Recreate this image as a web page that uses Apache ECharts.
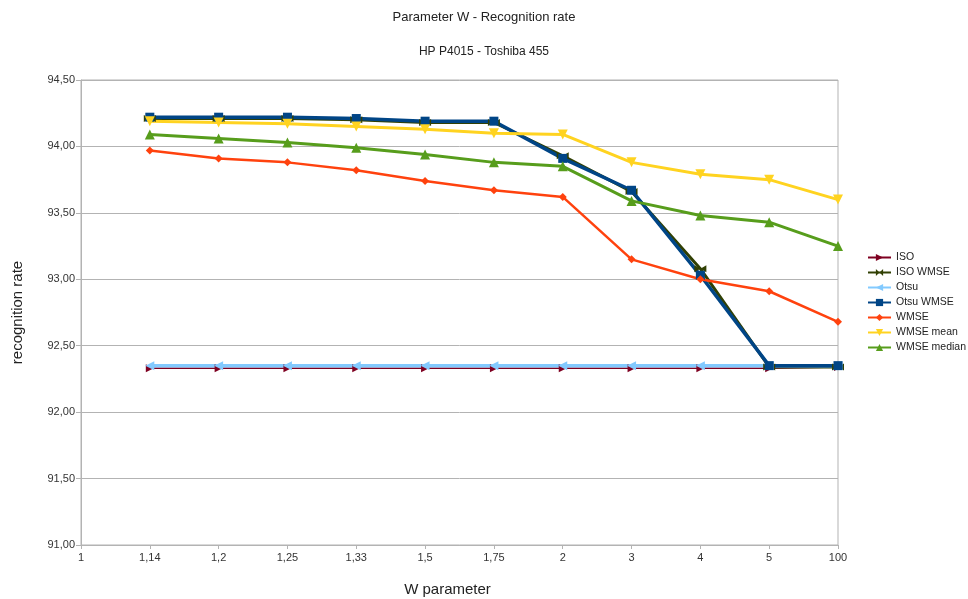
<!DOCTYPE html>
<html>
<head>
<meta charset="utf-8">
<script src="https://cdn.jsdelivr.net/npm/echarts@6/dist/echarts.min.js"></script>
<style>html,body{margin:0;padding:0;background:#fff}#c{width:968px;height:599px}</style>
</head>
<body>
<div id="c"></div>
<script>
var categories = ['1','1,14','1,2','1,25','1,33','1,5','1,75','2','3','4','5','100'];
var isoVals      = [null, 92.33, 92.33, 92.33, 92.33, 92.33, 92.33, 92.33, 92.33, 92.33, 92.33, 92.34];
var isoWmseVals  = [null, 94.21, 94.21, 94.21, 94.20, 94.18, 94.18, 93.93, 93.66, 93.08, 92.34, 92.34];
var otsuVals     = [null, 92.35, 92.35, 92.35, 92.35, 92.35, 92.35, 92.35, 92.35, 92.35, 92.35, 92.35];
var otsuWmseVals = [null, 94.22, 94.22, 94.22, 94.21, 94.19, 94.19, 93.91, 93.67, 93.03, 92.35, 92.35];
var wmseVals     = [null, 93.97, 93.91, 93.88, 93.82, 93.74, 93.67, 93.62, 93.15, 93.00, 92.91, 92.68];
var wmseMeanVals = [null, 94.19, 94.18, 94.17, 94.15, 94.13, 94.10, 94.09, 93.88, 93.79, 93.75, 93.60];
var wmseMedVals  = [null, 94.09, 94.06, 94.03, 93.99, 93.94, 93.88, 93.85, 93.59, 93.48, 93.43, 93.25];
var seriesNames = ['ISO','ISO WMSE','Otsu','Otsu WMSE','WMSE','WMSE mean','WMSE median'];

var FONT = 'Liberation Sans';
var bowtie = 'path://M0,0 L10,5 L0,10 Z M20,0 L10,5 L20,10 Z';

function mk(name, data, color, symbol, size, rot, width) {
  return {
    name: name, type: 'line', data: data, connectNulls: false,
    symbol: symbol, symbolSize: size, symbolRotate: rot,
    lineStyle: { color: color, width: width },
    itemStyle: { color: color },
    emphasis: { disabled: true },
    animation: false
  };
}

var chart = echarts.init(document.getElementById('c'));
chart.setOption({
  animation: false,
  textStyle: { fontFamily: FONT },
  title: [
    { text: 'Parameter W - Recognition rate', left: 'center', top: 6,
      textStyle: { fontSize: 13, fontWeight: 'normal', color: '#222', fontFamily: FONT } },
    { text: 'HP P4015 - Toshiba 455', left: 'center', top: 41,
      textStyle: { fontSize: 12, fontWeight: 'normal', color: '#222', fontFamily: FONT } }
  ],
  legend: {
    orient: 'vertical', left: 867, top: 252, padding: 0,
    itemWidth: 23, itemHeight: 9, itemGap: 4,
    textStyle: { fontSize: 10.5, color: '#222', fontFamily: FONT },
    data: seriesNames
  },
  grid: { left: 81, right: 130, top: 80, bottom: 54, show: true,
          borderColor: '#b3b3b3', borderWidth: 1, containLabel: false,
          outerBoundsMode: 'none' },
  xAxis: {
    type: 'category', data: categories, boundaryGap: false,
    name: 'W parameter', nameLocation: 'middle', nameGap: 37,
    nameTextStyle: { fontSize: 15, color: '#222', fontFamily: FONT, padding: [0, 24, 0, 0] },
    axisLine: { lineStyle: { color: '#b3b3b3' } },
    axisTick: { show: true, length: 4, alignWithLabel: true, lineStyle: { color: '#b3b3b3' } },
    axisLabel: { fontSize: 11, color: '#333', margin: 7, interval: 0 },
    splitLine: { show: false }
  },
  yAxis: {
    type: 'value', min: 91, max: 94.5, interval: 0.5,
    name: 'recognition rate', nameLocation: 'middle', nameGap: 56, nameRotate: 90,
    nameTextStyle: { fontSize: 15, color: '#222', fontFamily: FONT },
    axisLine: { show: true, lineStyle: { color: '#b3b3b3' } },
    axisTick: { show: true, length: 5, lineStyle: { color: '#b3b3b3' } },
    axisLabel: { fontSize: 11, color: '#333', margin: 6,
      formatter: function (v) { return v.toFixed(2).replace('.', ','); } },
    splitLine: { show: true, lineStyle: { color: '#b3b3b3', width: 1 } }
  },
  series: [
    mk('ISO', isoVals, '#7e0021', 'triangle', 8, -90, 1.5),
    mk('ISO WMSE', isoWmseVals, '#314004', bowtie, [12, 7], 0, 3),
    mk('Otsu', otsuVals, '#83caff', 'triangle', 9, 90, 3.5),
    mk('Otsu WMSE', otsuWmseVals, '#004586', 'rect', 9, 0, 3.5),
    mk('WMSE', wmseVals, '#ff420e', 'diamond', 8, 0, 2.5),
    mk('WMSE mean', wmseMeanVals, '#ffd320', 'triangle', 10, 180, 3),
    mk('WMSE median', wmseMedVals, '#579d1c', 'triangle', 10, 0, 3)
  ]
});
</script>
</body>
</html>
